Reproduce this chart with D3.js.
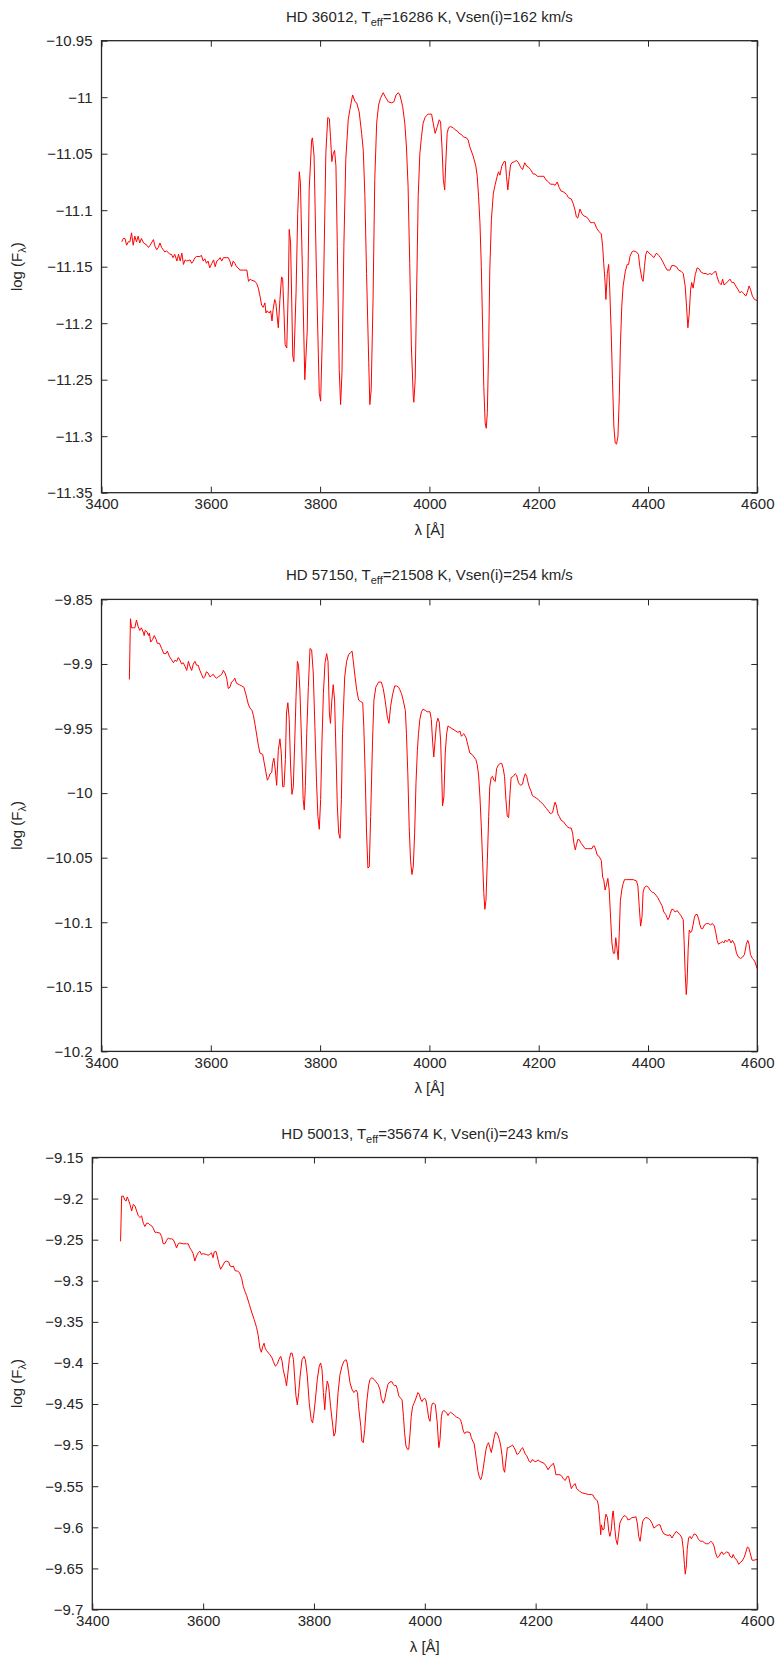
<!DOCTYPE html>
<html>
<head>
<meta charset="utf-8">
<script src="https://cdn.jsdelivr.net/npm/d3@7"></script>
<style>
  html, body { margin: 0; padding: 0; background: #fff; }
  svg { display: block; font-family: "Liberation Sans", Arial, Helvetica, sans-serif; }
</style>
</head>
<body>
<svg width="780" height="1659"></svg>
<script>
// star labels
const stars = ["HD 36012", "HD 57150", "HD 50013"];
const teff = [16286, 21508, 35674];
const vsini = [162, 254, 243];

const xTicks = [3400, 3600, 3800, 4000, 4200, 4400, 4600];
const yTicks1 = [-11.35, -11.3, -11.25, -11.2, -11.15, -11.1, -11.05, -11, -10.95];
const yTicks2 = [-10.2, -10.15, -10.1, -10.05, -10, -9.95, -9.9, -9.85];
const yTicks3 = [-9.7, -9.65, -9.6, -9.55, -9.5, -9.45, -9.4, -9.35, -9.3, -9.25, -9.2, -9.15];

// [wavelength (A), log F]
const spec36012 = [
  [3437,-11.128],[3440,-11.125],[3443,-11.125],[3446,-11.131],[3449,-11.128],[3452,-11.128],[3455,-11.120],[3458,-11.131],
  [3461,-11.123],[3464,-11.128],[3467,-11.123],[3470,-11.129],[3473,-11.125],[3477,-11.129],[3483,-11.131],[3486,-11.133],
  [3489,-11.131],[3495,-11.126],[3498,-11.132],[3501,-11.135],[3504,-11.133],[3507,-11.129],[3510,-11.133],[3513,-11.135],
  [3516,-11.137],[3519,-11.136],[3525,-11.139],[3528,-11.139],[3531,-11.142],[3534,-11.139],[3538,-11.145],[3541,-11.139],
  [3544,-11.145],[3547,-11.138],[3550,-11.148],[3553,-11.144],[3556,-11.145],[3562,-11.144],[3565,-11.147],[3568,-11.145],
  [3571,-11.142],[3574,-11.141],[3580,-11.141],[3583,-11.140],[3586,-11.145],[3589,-11.143],[3592,-11.147],[3595,-11.145],
  [3598,-11.151],[3602,-11.147],[3605,-11.144],[3608,-11.150],[3611,-11.145],[3614,-11.144],[3617,-11.142],[3620,-11.145],
  [3623,-11.142],[3629,-11.142],[3632,-11.142],[3635,-11.145],[3638,-11.150],[3641,-11.145],[3644,-11.147],[3647,-11.150],
  [3650,-11.151],[3653,-11.153],[3660,-11.153],[3666,-11.153],[3669,-11.163],[3672,-11.161],[3675,-11.162],[3681,-11.163],
  [3684,-11.165],[3687,-11.169],[3690,-11.176],[3693,-11.184],[3696,-11.186],[3699,-11.182],[3701,-11.191],[3703,-11.189],
  [3707,-11.191],[3709.5,-11.189],[3712,-11.198],[3714,-11.188],[3717,-11.179],[3719,-11.182],[3723.5,-11.204],[3726.5,-11.179],
  [3729.5,-11.159],[3731.5,-11.161],[3734,-11.191],[3736,-11.219],[3739,-11.222],[3742,-11.167],[3743.5,-11.117],[3746,-11.129],
  [3750,-11.229],[3752,-11.234],[3756,-11.173],[3759,-11.103],[3762,-11.066],[3764,-11.076],[3768,-11.161],[3772,-11.250],
  [3776.5,-11.206],[3780,-11.082],[3784.5,-11.038],[3786,-11.036],[3789,-11.052],[3793.5,-11.161],[3798.5,-11.262],[3801,-11.269],
  [3806,-11.176],[3810.5,-11.050],[3814,-11.018],[3817,-11.019],[3819,-11.035],[3821.5,-11.057],[3824,-11.050],[3826.5,-11.047],
  [3829,-11.061],[3831.5,-11.132],[3835,-11.241],[3837.5,-11.272],[3840,-11.244],[3843.5,-11.132],[3847,-11.055],[3851.5,-11.020],
  [3854.5,-11.011],[3859.5,-10.998],[3864,-11.004],[3867,-11.005],[3871.5,-11.013],[3876,-11.032],[3879,-11.047],[3882,-11.088],
  [3885,-11.156],[3889,-11.235],[3891,-11.272],[3893.5,-11.259],[3897,-11.176],[3900,-11.073],[3903.5,-11.023],[3907,-11.007],
  [3910.5,-11.001],[3915.5,-10.996],[3918.5,-10.999],[3924.5,-11.004],[3931,-11.005],[3935,-11.004],[3939,-10.998],[3943,-10.996],
  [3946,-10.998],[3951,-11.008],[3955,-11.023],[3958,-11.044],[3961,-11.079],[3964,-11.147],[3967,-11.220],[3970.5,-11.265],
  [3971.5,-11.270],[3974,-11.250],[3976.5,-11.176],[3979.5,-11.088],[3982.5,-11.050],[3985.5,-11.035],[3988.5,-11.023],[3992,-11.018],
  [3995,-11.016],[3998,-11.015],[4004,-11.015],[4007,-11.023],[4010.5,-11.032],[4014.5,-11.026],[4018,-11.020],[4020.5,-11.022],
  [4023,-11.044],[4025.5,-11.073],[4028,-11.082],[4030,-11.058],[4032.5,-11.032],[4035,-11.027],[4038.5,-11.026],[4043.5,-11.027],
  [4047.5,-11.029],[4051,-11.030],[4054.5,-11.032],[4058.5,-11.033],[4062,-11.035],[4068,-11.036],[4071,-11.038],[4074,-11.044],
  [4080,-11.052],[4085,-11.061],[4087.5,-11.070],[4090,-11.088],[4092.5,-11.111],[4095,-11.150],[4097.5,-11.206],[4099.5,-11.256],
  [4102,-11.288],[4104,-11.293],[4106,-11.279],[4108.5,-11.220],[4110.5,-11.153],[4113.5,-11.108],[4117,-11.085],[4120.5,-11.077],
  [4124,-11.070],[4126.5,-11.066],[4129,-11.069],[4132.5,-11.061],[4136.5,-11.057],[4139,-11.057],[4141,-11.070],[4143.5,-11.082],
  [4146,-11.070],[4148.5,-11.060],[4151,-11.058],[4156,-11.057],[4159.5,-11.056],[4163,-11.058],[4167,-11.062],[4170.5,-11.064],
  [4174.5,-11.058],[4178,-11.061],[4181.5,-11.062],[4185,-11.064],[4190,-11.068],[4193.5,-11.068],[4197.5,-11.070],[4201,-11.070],
  [4204.5,-11.070],[4209.5,-11.070],[4213,-11.073],[4218,-11.075],[4221.5,-11.077],[4226.5,-11.077],[4230,-11.078],[4234,-11.075],
  [4237.5,-11.080],[4241,-11.083],[4246,-11.084],[4251,-11.086],[4254.5,-11.089],[4259.5,-11.090],[4263,-11.094],[4266,-11.099],
  [4269,-11.106],[4271.5,-11.107],[4275.5,-11.099],[4279,-11.103],[4282.5,-11.105],[4287.5,-11.106],[4291,-11.108],[4295,-11.111],
  [4298.5,-11.111],[4302,-11.111],[4306,-11.116],[4310.5,-11.119],[4314.5,-11.121],[4317,-11.132],[4319,-11.147],[4321.5,-11.164],
  [4323,-11.179],[4325.5,-11.156],[4328,-11.148],[4330,-11.170],[4332.5,-11.206],[4335,-11.250],[4337.5,-11.291],[4340,-11.306],
  [4342.5,-11.307],[4345,-11.300],[4347.5,-11.265],[4349.5,-11.220],[4352,-11.185],[4354.5,-11.167],[4358.5,-11.154],[4362,-11.148],
  [4364.5,-11.148],[4367,-11.141],[4370.5,-11.137],[4374,-11.136],[4379,-11.137],[4382.5,-11.139],[4385,-11.150],[4389,-11.161],
  [4391,-11.163],[4393.5,-11.150],[4396,-11.139],[4398.5,-11.136],[4402,-11.138],[4407,-11.140],[4410.5,-11.142],[4415.5,-11.138],
  [4419.5,-11.140],[4423,-11.142],[4426.5,-11.145],[4431.5,-11.150],[4435,-11.153],[4440,-11.153],[4443.5,-11.149],[4447.5,-11.149],
  [4452,-11.150],[4456,-11.153],[4460.5,-11.154],[4464.5,-11.156],[4468,-11.167],[4470.5,-11.185],[4473,-11.204],[4475.5,-11.191],
  [4478,-11.170],[4480,-11.164],[4482.5,-11.169],[4486.5,-11.157],[4490,-11.151],[4493.5,-11.152],[4497.5,-11.155],[4502,-11.156],
  [4506,-11.156],[4509.5,-11.157],[4513,-11.156],[4517,-11.157],[4520.5,-11.155],[4524,-11.154],[4526.5,-11.159],[4530,-11.164],
  [4534,-11.166],[4536.5,-11.161],[4539,-11.166],[4542.5,-11.165],[4546,-11.163],[4550,-11.161],[4553.5,-11.164],[4557,-11.164],
  [4560.5,-11.167],[4564.5,-11.170],[4568,-11.173],[4571.5,-11.172],[4575.5,-11.174],[4579,-11.176],[4581.5,-11.173],[4585,-11.167],
  [4587.5,-11.170],[4591,-11.176],[4595,-11.179],[4600,-11.180]
];

const spec57150 = [
  [3451,-9.912],[3453,-9.865],[3455,-9.872],[3458,-9.872],[3461,-9.872],[3464,-9.866],[3467,-9.871],[3470,-9.874],
  [3473,-9.872],[3477,-9.876],[3478,-9.878],[3480,-9.874],[3483,-9.875],[3486,-9.878],[3487.5,-9.876],[3490,-9.883],
  [3493.5,-9.881],[3496.5,-9.878],[3500,-9.881],[3502,-9.884],[3506,-9.884],[3510,-9.888],[3514,-9.892],[3518,-9.892],
  [3520.5,-9.890],[3524,-9.894],[3528.5,-9.897],[3531.5,-9.899],[3534.5,-9.897],[3537.5,-9.898],[3540.5,-9.895],[3543.5,-9.897],
  [3546.5,-9.900],[3549.5,-9.899],[3553,-9.902],[3556,-9.905],[3559,-9.898],[3562,-9.902],[3565,-9.905],[3568,-9.900],
  [3571,-9.898],[3574,-9.901],[3577,-9.901],[3580,-9.905],[3583,-9.908],[3586,-9.911],[3589,-9.910],[3592,-9.906],
  [3595,-9.907],[3598.5,-9.910],[3601.5,-9.909],[3604.5,-9.908],[3607.5,-9.910],[3610.5,-9.911],[3613.5,-9.910],[3617,-9.909],
  [3620,-9.908],[3623,-9.905],[3626,-9.907],[3629,-9.911],[3632,-9.919],[3635,-9.918],[3638,-9.914],[3641,-9.913],
  [3644,-9.911],[3647,-9.915],[3652,-9.916],[3656.5,-9.917],[3660.5,-9.918],[3664.5,-9.924],[3668.5,-9.931],[3671.5,-9.934],
  [3675.5,-9.936],[3678,-9.940],[3681,-9.947],[3684,-9.955],[3687,-9.963],[3690,-9.969],[3695,-9.970],[3697.5,-9.976],
  [3700.5,-9.983],[3703.5,-9.990],[3706,-9.988],[3708.5,-9.985],[3711.5,-9.984],[3713,-9.977],[3715.5,-9.973],[3718,-9.982],
  [3720.5,-9.994],[3723.5,-9.967],[3726.5,-9.958],[3729,-9.969],[3731.5,-9.995],[3734,-9.995],[3736.5,-9.974],[3738.5,-9.938],
  [3741,-9.930],[3743.5,-9.943],[3746,-9.979],[3748.5,-10.001],[3751,-9.995],[3753.5,-9.961],[3756,-9.925],[3758.5,-9.898],
  [3760.5,-9.901],[3763,-9.920],[3766,-9.959],[3769,-10.005],[3771,-10.013],[3773,-9.995],[3775.5,-9.954],[3778.5,-9.918],
  [3781.5,-9.888],[3784.5,-9.889],[3787.5,-9.907],[3790.5,-9.949],[3793.5,-9.992],[3796,-10.018],[3798.5,-10.028],[3801,-10.005],
  [3803.5,-9.959],[3806,-9.923],[3809,-9.899],[3812,-9.892],[3814.5,-9.898],[3817,-9.938],[3819,-9.946],[3821.5,-9.928],
  [3824,-9.916],[3826.5,-9.928],[3829,-9.967],[3831.5,-10.010],[3834,-10.031],[3836.5,-10.035],[3839,-10.005],[3841,-9.954],
  [3845,-9.910],[3848.5,-9.898],[3852,-9.893],[3856,-9.891],[3858.5,-9.890],[3860.5,-9.897],[3864,-9.910],[3867,-9.920],
  [3870.5,-9.928],[3874,-9.929],[3878,-9.930],[3880,-9.949],[3882.5,-9.985],[3885,-10.031],[3887.5,-10.058],[3890,-10.057],
  [3892.5,-10.018],[3896,-9.959],[3898.5,-9.928],[3902,-9.918],[3907,-9.914],[3912,-9.914],[3915.5,-9.919],[3919,-9.928],
  [3923,-9.941],[3926,-9.946],[3929,-9.933],[3932.5,-9.924],[3936.5,-9.917],[3940,-9.917],[3943.5,-9.918],
  [3946,-9.920],[3949,-9.923],[3952,-9.928],[3956,-9.936],[3958,-9.954],[3960.5,-9.985],[3963,-10.026],[3965.5,-10.052],
  [3968,-10.063],[3970.5,-10.057],[3973,-10.031],[3975.5,-9.992],[3978,-9.967],[3980,-9.954],[3982.5,-9.943],[3985.5,-9.937],
  [3988.5,-9.935],[3992.5,-9.936],[3996,-9.937],[4001,-9.937],[4003.5,-9.943],[4006,-9.961],[4008,-9.972],[4010.5,-9.959],
  [4013,-9.946],[4015.5,-9.942],[4018,-9.945],[4020.5,-9.959],[4022.5,-9.985],[4024,-10.010],[4026.5,-10.003],[4029,-9.969],
  [4031.5,-9.954],[4034,-9.948],[4037.5,-9.949],[4041,-9.950],[4045,-9.951],[4048.5,-9.952],[4052,-9.953],[4056,-9.952],
  [4058.5,-9.956],[4060.5,-9.955],[4063,-9.954],[4067,-9.957],[4070.5,-9.963],[4074,-9.969],[4078,-9.970],[4081.5,-9.972],
  [4085,-9.974],[4087.5,-9.978],[4090,-9.986],[4092.5,-10.003],[4095,-10.026],[4097.5,-10.054],[4099.5,-10.077],[4101.5,-10.090],
  [4103.5,-10.083],[4106,-10.052],[4108.5,-10.018],[4110.5,-9.995],[4113,-9.988],[4115.5,-9.987],[4118,-9.990],[4120.5,-9.991],
  [4123,-9.981],[4126.5,-9.978],[4130,-9.977],[4132.5,-9.977],[4135,-9.981],[4137.5,-9.987],[4140,-10.005],[4142.5,-10.018],
  [4145,-10.019],[4147.5,-10.000],[4149.5,-9.988],[4153.5,-9.987],[4157,-9.985],[4159.5,-9.986],[4163,-9.992],[4167,-9.994],
  [4170.5,-9.993],[4173,-9.988],[4175.5,-9.985],[4178,-9.987],[4180,-9.991],[4182.5,-9.995],[4186.5,-9.999],[4188.5,-10.002],
  [4192.5,-10.003],[4196,-10.004],[4199.5,-10.005],[4203.5,-10.007],[4207,-10.008],[4210.5,-10.010],[4214.5,-10.012],[4218,-10.014],
  [4221.5,-10.016],[4225.5,-10.015],[4228,-10.010],[4230,-10.007],[4232.5,-10.010],[4235,-10.016],[4237.5,-10.018],[4241,-10.021],
  [4245,-10.022],[4248.5,-10.024],[4252,-10.026],[4256,-10.027],[4259.5,-10.027],[4262,-10.031],[4264.5,-10.039],[4267,-10.044],
  [4269,-10.040],[4271.5,-10.036],[4274,-10.036],[4278,-10.039],[4281.5,-10.041],[4285,-10.043],[4289,-10.043],[4293.5,-10.043],
  [4297.5,-10.043],[4299.5,-10.041],[4302,-10.041],[4304.5,-10.044],[4307,-10.048],[4310.5,-10.049],[4314.5,-10.052],[4317,-10.065],
  [4319,-10.067],[4321.5,-10.075],[4324,-10.071],[4326.5,-10.066],[4329,-10.075],[4331.5,-10.096],[4334,-10.116],[4336.5,-10.124],
  [4339,-10.124],[4341,-10.112],[4343.5,-10.121],[4345.5,-10.129],[4347.5,-10.108],[4349.5,-10.083],[4352,-10.075],[4354.5,-10.070],
  [4357,-10.067],[4360.5,-10.067],[4367,-10.067],[4373,-10.067],[4379,-10.068],[4381.5,-10.072],[4384,-10.088],[4386.5,-10.103],
  [4389,-10.096],[4391,-10.077],[4393.5,-10.073],[4397.5,-10.072],[4401,-10.073],[4403.5,-10.075],[4406,-10.076],[4408.5,-10.077],
  [4410.5,-10.077],[4414.5,-10.079],[4418,-10.081],[4421.5,-10.084],[4425.5,-10.087],[4429,-10.092],[4432.5,-10.094],[4436.5,-10.098],
  [4439,-10.096],[4441,-10.093],[4443.5,-10.090],[4446,-10.090],[4449.5,-10.092],[4453.5,-10.091],[4457,-10.093],[4460.5,-10.095],
  [4464.5,-10.098],[4466,-10.114],[4468,-10.139],[4470,-10.156],[4471.5,-10.147],[4473.5,-10.121],[4475.5,-10.106],[4478,-10.108],
  [4480,-10.107],[4482.5,-10.102],[4485,-10.096],[4487.5,-10.094],[4490,-10.094],[4492.5,-10.097],[4495,-10.102],[4497.5,-10.105],
  [4500,-10.105],[4503.5,-10.102],[4507,-10.101],[4510.5,-10.101],[4514.5,-10.102],[4518,-10.101],[4521.5,-10.103],[4524,-10.108],
  [4526.5,-10.114],[4529,-10.117],[4532.5,-10.116],[4536.5,-10.115],[4539,-10.116],[4541,-10.114],[4545,-10.115],[4548.5,-10.113],
  [4552,-10.116],[4554.5,-10.114],[4558.5,-10.117],[4562,-10.124],[4565.5,-10.127],[4569.5,-10.128],[4573,-10.127],[4576.5,-10.125],
  [4580,-10.117],[4582.5,-10.114],[4585,-10.117],[4587.5,-10.125],[4591,-10.128],[4595,-10.130],[4600,-10.136]
];

const spec50013 = [
  [3451,-9.252],[3453,-9.197],[3456,-9.197],[3459,-9.202],[3461,-9.203],[3463,-9.198],[3465,-9.201],[3468,-9.207],
  [3471,-9.215],[3474,-9.207],[3477,-9.209],[3480,-9.215],[3483,-9.221],[3486,-9.223],[3489,-9.221],[3492,-9.230],
  [3495,-9.234],[3498,-9.230],[3501,-9.230],[3504,-9.232],[3507,-9.233],[3510,-9.236],[3513,-9.241],[3516,-9.241],
  [3522,-9.242],[3525,-9.246],[3528,-9.255],[3531,-9.255],[3534,-9.251],[3537,-9.248],[3540,-9.249],[3543,-9.249],
  [3546,-9.250],[3549,-9.254],[3552,-9.260],[3555,-9.255],[3558,-9.254],[3564,-9.255],[3570,-9.255],[3573,-9.255],
  [3576,-9.260],[3579,-9.263],[3582,-9.267],[3585,-9.276],[3588,-9.270],[3591,-9.266],[3594,-9.264],[3597,-9.268],
  [3600,-9.267],[3606,-9.268],[3609,-9.269],[3612,-9.268],[3615,-9.266],[3618,-9.272],[3620,-9.265],[3623,-9.264],
  [3625.5,-9.270],[3628,-9.278],[3631.5,-9.286],[3635,-9.282],[3639,-9.277],[3642.5,-9.276],[3646,-9.277],[3648.5,-9.282],
  [3652,-9.283],[3654.5,-9.282],[3658,-9.288],[3661.5,-9.288],[3665.5,-9.290],[3669.5,-9.297],[3672.5,-9.307],[3675.5,-9.313],
  [3678.5,-9.318],[3683.5,-9.329],[3687.5,-9.338],[3692,-9.347],[3696.5,-9.357],[3699.5,-9.367],[3702.5,-9.382],[3705,-9.387],
  [3707.5,-9.380],[3710,-9.376],[3712,-9.382],[3714.5,-9.385],[3720.5,-9.390],[3724.5,-9.394],[3726.5,-9.398],[3730.5,-9.404],
  [3734,-9.401],[3736.5,-9.396],[3740,-9.392],[3742.5,-9.398],[3744.5,-9.408],[3748.5,-9.420],[3750.5,-9.428],[3753,-9.412],
  [3755.5,-9.396],[3758,-9.388],[3760.5,-9.388],[3763,-9.396],[3765,-9.416],[3767.5,-9.440],[3770,-9.451],[3772.5,-9.436],
  [3775,-9.416],[3778.5,-9.396],[3782,-9.392],[3784.5,-9.396],[3788,-9.416],[3791.5,-9.449],[3795,-9.469],[3797.5,-9.473],
  [3800,-9.461],[3802.5,-9.445],[3806,-9.420],[3809.5,-9.404],[3812,-9.400],[3814.5,-9.408],[3817,-9.436],[3819.5,-9.457],
  [3821.5,-9.436],[3824,-9.422],[3826.5,-9.428],[3830,-9.453],[3834,-9.477],[3836,-9.489],[3838.5,-9.485],[3841,-9.461],
  [3843.5,-9.436],[3847,-9.414],[3850.5,-9.404],[3854,-9.398],[3858,-9.396],[3860,-9.400],[3862.5,-9.412],[3865,-9.424],
  [3868.5,-9.432],[3872,-9.436],[3876,-9.433],[3878.5,-9.436],[3880.5,-9.453],[3884.5,-9.477],[3886.5,-9.495],[3889,-9.497],
  [3891.5,-9.481],[3895,-9.449],[3898.5,-9.428],[3901,-9.420],[3904.5,-9.418],[3908.5,-9.420],[3912,-9.423],[3915.5,-9.426],
  [3919,-9.432],[3921.5,-9.443],[3925,-9.449],[3927.5,-9.445],[3930,-9.436],[3933.5,-9.426],[3937,-9.423],[3941,-9.423],
  [3943,-9.426],[3945.5,-9.428],[3948,-9.427],[3950.5,-9.432],[3953,-9.440],[3956.5,-9.443],[3959,-9.445],[3961.5,-9.465],
  [3963.5,-9.485],[3966,-9.501],[3968.5,-9.505],[3971,-9.505],[3973.5,-9.485],[3975.5,-9.465],[3978,-9.453],[3980.5,-9.449],
  [3983,-9.445],[3985.5,-9.440],[3987.5,-9.436],[3990,-9.438],[3992.5,-9.444],[3995,-9.447],[3997.5,-9.444],[4000,-9.443],
  [4002,-9.445],[4004.5,-9.455],[4007,-9.467],[4009.5,-9.471],[4012,-9.453],[4014,-9.449],[4016.5,-9.449],[4019,-9.451],
  [4022.5,-9.473],[4025,-9.501],[4025.5,-9.503],[4027.5,-9.493],[4030,-9.465],[4032,-9.459],[4034.5,-9.458],[4037,-9.459],
  [4039.5,-9.461],[4042,-9.464],[4044.5,-9.461],[4046.5,-9.460],[4050.5,-9.462],[4054,-9.464],[4057.5,-9.466],[4061,-9.467],
  [4064.5,-9.469],[4067,-9.475],[4069.5,-9.483],[4072,-9.486],[4074.5,-9.484],[4078,-9.484],[4081.5,-9.485],[4084,-9.491],
  [4086.5,-9.495],[4089,-9.498],[4091,-9.507],[4093.5,-9.520],[4096,-9.532],[4098.5,-9.539],[4101,-9.542],[4103,-9.538],
  [4105.5,-9.528],[4108,-9.516],[4110.5,-9.505],[4113,-9.499],[4115,-9.497],[4117.5,-9.503],[4120,-9.509],[4122.5,-9.501],
  [4125,-9.491],[4127.5,-9.484],[4129.5,-9.485],[4132,-9.488],[4134.5,-9.493],[4137,-9.501],[4139.5,-9.513],[4141.5,-9.528],
  [4144,-9.533],[4146.5,-9.518],[4149,-9.503],[4151.5,-9.503],[4153.5,-9.502],[4156,-9.501],[4158.5,-9.500],[4161,-9.503],
  [4163.5,-9.506],[4166,-9.511],[4168,-9.511],[4170.5,-9.509],[4174,-9.505],[4176.5,-9.503],[4179,-9.507],[4181.5,-9.511],
  [4184,-9.513],[4186,-9.516],[4188.5,-9.520],[4191,-9.521],[4193.5,-9.518],[4196,-9.518],[4198,-9.520],[4200.5,-9.520],
  [4204.5,-9.518],[4208,-9.520],[4211.5,-9.521],[4215,-9.522],[4218.5,-9.525],[4222.5,-9.530],[4226,-9.526],[4229.5,-9.524],
  [4232,-9.522],[4234.5,-9.528],[4236.5,-9.536],[4240.5,-9.536],[4244,-9.536],[4247.5,-9.538],[4250,-9.541],[4253.5,-9.543],
  [4257,-9.538],[4259.5,-9.538],[4262,-9.546],[4264.5,-9.553],[4267,-9.550],[4269,-9.548],[4271.5,-9.547],[4274,-9.553],
  [4279,-9.556],[4283.5,-9.558],[4289.5,-9.559],[4295.5,-9.560],[4300.5,-9.560],[4304,-9.561],[4306.5,-9.565],[4309,-9.566],
  [4311.5,-9.568],[4313.5,-9.574],[4315,-9.586],[4316,-9.595],[4317.5,-9.609],[4318.5,-9.597],[4321,-9.603],[4323.5,-9.602],
  [4324.5,-9.593],[4327,-9.584],[4329.5,-9.588],[4332,-9.605],[4334,-9.611],[4336.5,-9.603],[4339,-9.582],[4340,-9.580],
  [4342.5,-9.599],[4345,-9.615],[4347.5,-9.621],[4350,-9.607],[4352,-9.595],[4354.5,-9.591],[4357,-9.588],[4359.5,-9.586],
  [4362,-9.586],[4364.5,-9.588],[4366.5,-9.591],[4370.5,-9.590],[4374,-9.588],[4377.5,-9.588],[4381,-9.587],[4383.5,-9.595],
  [4386,-9.611],[4388.5,-9.617],[4390.5,-9.607],[4393,-9.593],[4395.5,-9.590],[4399,-9.588],[4403,-9.589],[4406.5,-9.591],
  [4410,-9.595],[4413.5,-9.601],[4417,-9.599],[4421,-9.597],[4424.5,-9.597],[4428,-9.604],[4431.5,-9.608],[4435,-9.609],
  [4439,-9.610],[4442.5,-9.609],[4446,-9.613],[4449.5,-9.609],[4453.5,-9.605],[4457,-9.607],[4460.5,-9.609],[4464,-9.613],
  [4466.5,-9.627],[4468.5,-9.645],[4470,-9.657],[4472,-9.647],[4473.5,-9.627],[4476,-9.613],[4478.5,-9.611],[4481,-9.614],
  [4483.5,-9.611],[4486,-9.608],[4489.5,-9.609],[4492,-9.612],[4494,-9.615],[4498,-9.617],[4501.5,-9.617],[4505,-9.619],
  [4508.5,-9.620],[4512,-9.620],[4516,-9.617],[4519.5,-9.619],[4522,-9.623],[4524.5,-9.631],[4528,-9.637],[4531.5,-9.635],
  [4534,-9.631],[4536.5,-9.630],[4538.5,-9.633],[4541,-9.632],[4544.5,-9.630],[4548.5,-9.631],[4550.5,-9.635],[4554.5,-9.637],
  [4556.5,-9.633],[4559,-9.637],[4563,-9.640],[4566.5,-9.645],[4569,-9.643],[4572.5,-9.641],[4576,-9.637],[4579.5,-9.630],
  [4582,-9.624],[4584.5,-9.625],[4587,-9.631],[4590.5,-9.640],[4594,-9.640],[4600,-9.639]
];

const panels = [
  { star: stars[0], teff: teff[0], vsini: vsini[0], top: 40.7, left: 101.5, yDomain: [-11.35, -10.95], yTicks: yTicks1, data: spec36012 },
  { star: stars[1], teff: teff[1], vsini: vsini[1], top: 599.4, left: 101.5, yDomain: [-10.2, -9.85], yTicks: yTicks2, data: spec57150 },
  { star: stars[2], teff: teff[2], vsini: vsini[2], top: 1157.5, left: 92.3, yDomain: [-9.7, -9.15], yTicks: yTicks3, data: spec50013 },
];

const svg = d3.select("svg");
const right = 757.3;
const plotH = 452;
const textColor = "#262626";
const fmt = d3.format(".2~f");

panels.forEach((p, i) => {
  const w = right - p.left;
  const g = svg.append("g").attr("transform", `translate(${p.left},${p.top})`);

  const x = d3.scaleLinear().domain([3400, 4600]).range([0, w]);
  const y = d3.scaleLinear().domain(p.yDomain).range([plotH, 0]);

  const styleAxis = (sel) => {
    sel.select(".domain").remove();
    sel.selectAll(".tick line").attr("stroke", textColor).attr("stroke-width", 1);
    sel.selectAll(".tick text").attr("fill", textColor).attr("font-size", 15)
      .attr("font-family", '"Liberation Sans", Arial, sans-serif');
  };

  g.append("g").attr("transform", `translate(0,${plotH})`)
    .call(d3.axisBottom(x).tickValues(xTicks).tickSize(-6).tickPadding(6).tickFormat(d3.format("d")))
    .call(styleAxis);
  g.append("g")
    .call(d3.axisTop(x).tickValues(xTicks).tickSize(-6).tickFormat(""))
    .call(styleAxis);
  g.append("g")
    .call(d3.axisLeft(y).tickValues(p.yTicks).tickSize(-6).tickPadding(9).tickFormat(fmt))
    .call(styleAxis);
  g.append("g").attr("transform", `translate(${w},0)`)
    .call(d3.axisRight(y).tickValues(p.yTicks).tickSize(-6).tickFormat(""))
    .call(styleAxis);

  const clipId = "clip" + i;
  g.append("clipPath").attr("id", clipId)
    .append("rect").attr("width", w).attr("height", plotH);

  const line = d3.line().x((d) => x(d[0])).y((d) => y(d[1]));
  g.append("path")
    .datum(p.data)
    .attr("clip-path", `url(#${clipId})`)
    .attr("fill", "none")
    .attr("stroke", "#ff0000")
    .attr("stroke-width", 1)
    .attr("stroke-linejoin", "round")
    .attr("d", line);

  g.append("rect")
    .attr("width", w).attr("height", plotH)
    .attr("fill", "none").attr("stroke", textColor).attr("stroke-width", 1.3);

  // title with subscript
  const title = g.append("text")
    .attr("x", w / 2).attr("y", -19)
    .attr("text-anchor", "middle").attr("font-size", 15).attr("fill", textColor);
  title.append("tspan").text(`${p.star}, T`);
  title.append("tspan").attr("font-size", 11).attr("dy", 4).text("eff");
  title.append("tspan").attr("dy", -4).text(`=${p.teff} K, Vsen(i)=${p.vsini} km/s`);

  // x label
  g.append("text")
    .attr("x", w / 2).attr("y", plotH + 42)
    .attr("text-anchor", "middle").attr("font-size", 15).attr("fill", textColor)
    .text("λ [Å]");

  // y label
  const yl = g.append("text")
    .attr("transform", `translate(${21.7 - p.left},${plotH / 2}) rotate(-90)`)
    .attr("text-anchor", "middle").attr("font-size", 15).attr("fill", textColor);
  yl.append("tspan").text("log (F");
  yl.append("tspan").attr("font-size", 11).attr("dy", 4).text("λ");
  yl.append("tspan").attr("dy", -4).text(")");
});
</script>
</body>
</html>
